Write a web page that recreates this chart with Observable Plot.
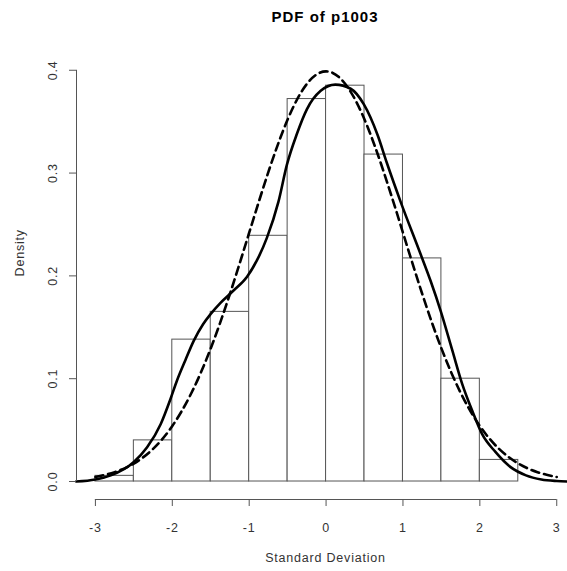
<!DOCTYPE html>
<html><head><meta charset="utf-8">
<script src="https://cdn.jsdelivr.net/npm/d3@7"></script>
<script src="https://cdn.jsdelivr.net/npm/@observablehq/plot@0.6"></script>
<style>
body{margin:0;background:#fff;font-family:"Liberation Sans",Arial,sans-serif;}
#wrap{position:relative;width:567px;height:571px;overflow:hidden;background:#fff}
#wrap svg{position:absolute;left:0;top:0}
#title{position:absolute;top:9px;left:225px;width:200px;text-align:center;font-weight:bold;font-size:15px;line-height:15px;color:#000;letter-spacing:1px}
</style></head><body>
<div id="wrap"><div id="title">PDF of p1003</div></div>
<script>
// Histogram bins (Standard Deviation) and density heights
const binLo = [-3, -2.5, -2, -1.5, -1, -0.5, 0, 0.5, 1, 1.5, 2];
const binHi = [-2.5, -2, -1.5, -1, -0.5, 0, 0.5, 1, 1.5, 2, 2.5];
const binDensity = [0.0055, 0.040, 0.138, 0.165, 0.239, 0.372, 0.385, 0.318, 0.217, 0.100, 0.021];

// Kernel density estimate (solid line)
const kdeX = [-3.25, -3.0, -2.8, -2.5, -2.33, -2.15, -2.02, -1.94, -1.83, -1.72, -1.6, -1.5, -1.37, -1.20, -1.03, -0.90, -0.77, -0.62, -0.51, -0.38, -0.25, -0.07, 0.12, 0.32, 0.49, 0.67, 0.79, 0.97, 1.23, 1.36, 1.49, 1.64, 1.77, 1.90, 2.03, 2.2, 2.4, 2.6, 2.8, 3.0, 3.14];
const kdeY = [0.0000, 0.0020, 0.0060, 0.0190, 0.0330, 0.0560, 0.0810, 0.0980, 0.1180, 0.1370, 0.1530, 0.1630, 0.1740, 0.1860, 0.1990, 0.2150, 0.2370, 0.2720, 0.3080, 0.3380, 0.3620, 0.3800, 0.3860, 0.3820, 0.3670, 0.3370, 0.3100, 0.2720, 0.2210, 0.1950, 0.1660, 0.1280, 0.0950, 0.0690, 0.0460, 0.0290, 0.0140, 0.0060, 0.0020, 0.0005, 0.0000];

// Normal reference curve (dashed line)
const normX = [-3, -2.75, -2.5, -2.25, -2, -1.75, -1.5, -1.25, -1, -0.75, -0.5, -0.25, 0, 0.25, 0.5, 0.75, 1, 1.25, 1.5, 1.75, 2, 2.25, 2.5, 2.75, 3];
const normY = [0.0044, 0.0091, 0.0175, 0.0317, 0.0540, 0.0863, 0.1295, 0.1826, 0.2420, 0.3011, 0.3521, 0.3867, 0.3989, 0.3867, 0.3521, 0.3011, 0.2420, 0.1826, 0.1295, 0.0863, 0.0540, 0.0317, 0.0175, 0.0091, 0.0044];

// Axis ticks and labels
const xTicks = [-3, -2, -1, 0, 1, 2, 3];
const yTicks = [0, 0.1, 0.2, 0.3, 0.4];
const xLabel = "Standard Deviation";
const yLabel = "Density";
const xDomain = [-3.246, 3.14];
const yDomain = [-0.0175, 0.4165];

const bins = binLo.map((lo, i) => ({lo, hi: binHi[i], d: binDensity[i]}));
const kde = kdeX.map((x, i) => ({x, y: kdeY[i]}));
const norm = normX.map((x, i) => ({x, y: normY[i]}));

const axisColor = "#555";
const chart = Plot.plot({
  width: 567, height: 571,
  marginLeft: 76, marginRight: 0, marginTop: 52.8, marginBottom: 72,
  x: {domain: xDomain},
  y: {domain: yDomain},
  style: {fontFamily: "'Liberation Sans', Arial, sans-serif", fontSize: "12.5px", letterSpacing: "0.8px", color: "#333", background: "white", overflow: "visible"},
  marks: [
    Plot.rect(bins, {x1: "lo", x2: "hi", y1: 0, y2: "d", fill: "white", stroke: axisColor, strokeWidth: 1}),
    Plot.line(norm, {x: "x", y: "y", stroke: "#000", strokeWidth: 2.6, strokeDasharray: "8,5", curve: "natural"}),
    Plot.line(kde, {x: "x", y: "y", stroke: "#000", strokeWidth: 2.6, curve: "monotone-x"}),
    Plot.ruleY([yDomain[0]], {x1: xTicks[0], x2: xTicks[xTicks.length - 1], stroke: axisColor}),
    Plot.ruleX([xDomain[0]], {y1: yTicks[0], y2: yTicks[yTicks.length - 1], stroke: axisColor}),
    Plot.axisX({ticks: xTicks, tickSize: 7, tickPadding: 17, tickFormat: d => String(d), label: null, stroke: axisColor, fill: "#333"}),
    Plot.axisY({ticks: yTicks, tickSize: 7, tickRotate: -90, tickPadding: 13, tickFormat: d => d.toFixed(1), label: null, stroke: axisColor, fill: "#333"}),
    Plot.text([xLabel], {frameAnchor: "bottom", dx: 3.5, dy: 62, fill: "#333"}),
    Plot.text([yLabel], {frameAnchor: "left", dx: -57, rotate: -90, fill: "#333"})
  ]
});
document.getElementById("wrap").insertBefore(chart, document.getElementById("title"));
</script>
</body></html>
